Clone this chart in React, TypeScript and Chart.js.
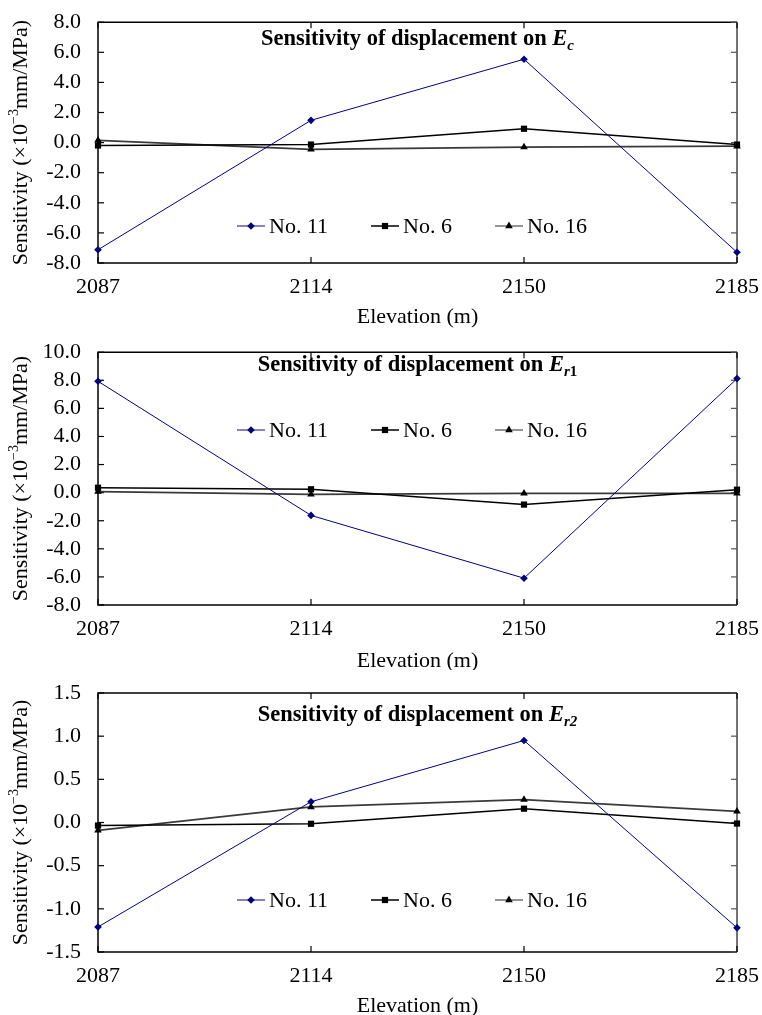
import React, { useEffect, useRef } from 'react';
import { Chart, registerables } from 'chart.js';

Chart.register(...registerables);

// ---------- data ----------
const categories = ['2087', '2114', '2150', '2185'];
const seriesLabels = ['No. 11', 'No. 6', 'No. 16'];

const ecNo11 = [-7.12, 1.48, 5.54, -7.29];
const ecNo6 = [-0.19, -0.13, 0.92, -0.13];
const ecNo16 = [0.15, -0.45, -0.3, -0.24];
const ecTicks = [-8, -6, -4, -2, 0, 2, 4, 6, 8];

const er1No11 = [7.93, -1.62, -6.09, 8.12];
const er1No6 = [0.35, 0.24, -0.85, 0.21];
const er1No16 = [0.07, -0.12, -0.05, -0.05];
const er1Ticks = [-8, -6, -4, -2, 0, 2, 4, 6, 8, 10];

const er2No11 = [-1.21, 0.24, 0.95, -1.22];
const er2No6 = [-0.035, -0.015, 0.16, -0.012];
const er2No16 = [-0.09, 0.18, 0.265, 0.13];
const er2Ticks = [-1.5, -1.0, -0.5, 0, 0.5, 1.0, 1.5];

const titleMain = 'Sensitivity of displacement on ';
const titleSymbol = 'E';
const titleSubs = [['c'], ['r', '1'], ['r', '2']];
const xTitle = 'Elevation (m)';
const yTitleParts = ['Sensitivity (×10', '−3', 'mm/MPa)'];

const panelSeries = [
  [ecNo11, ecNo6, ecNo16],
  [er1No11, er1No6, er1No16],
  [er2No11, er2No6, er2No16],
];
const panelTicks = [ecTicks, er1Ticks, er2Ticks];

// ---------- style / layout ----------
const FONT = '"Liberation Serif", "Times New Roman", serif';
const STYLES = [
  { line: '#000080', point: '#000080', width: 1, pointStyle: 'rectRot', r: 3.8 },
  { line: '#000000', point: '#000000', width: 1.5, pointStyle: 'rect', r: 4.4 },
  { line: '#3a3a3a', point: '#000000', width: 1.8, pointStyle: 'triangle', r: 4.4 },
];
const LEGEND_X = [237, 371, 495];
const LEGEND_LINE = 28;
const LEGEND_TEXT_OFF = 32;

const PANELS = [
  { top: 0, height: 330, plotTop: 15, plotBottom: 263, titleY: 38, legendY: 226, xTitleY: 316 },
  { top: 330, height: 340, plotTop: 21, plotBottom: 275, titleY: 34, legendY: 100, xTitleY: 330 },
  { top: 670, height: 345, plotTop: 23, plotBottom: 282, titleY: 44, legendY: 230, xTitleY: 335 },
];

type Seg = { t: string; font: string; dy?: number };

function drawRich(ctx: CanvasRenderingContext2D, segs: Seg[], cx: number, baseline: number) {
  let total = 0;
  const widths = segs.map((s) => {
    ctx.font = s.font;
    const w = ctx.measureText(s.t).width;
    total += w;
    return w;
  });
  let x = cx - total / 2;
  ctx.textAlign = 'left';
  ctx.textBaseline = 'alphabetic';
  segs.forEach((s, i) => {
    ctx.font = s.font;
    ctx.fillText(s.t, x, baseline + (s.dy || 0));
    x += widths[i];
  });
}

function drawMarker(ctx: CanvasRenderingContext2D, style: string, x: number, y: number, r: number, color: string) {
  ctx.fillStyle = color;
  ctx.beginPath();
  if (style === 'rectRot') {
    ctx.moveTo(x, y - r);
    ctx.lineTo(x + r, y);
    ctx.lineTo(x, y + r);
    ctx.lineTo(x - r, y);
  } else if (style === 'rect') {
    const s = r / Math.SQRT2;
    ctx.rect(x - s, y - s, 2 * s, 2 * s);
  } else {
    let rad = 0;
    ctx.moveTo(x + Math.sin(rad) * r, y - Math.cos(rad) * r);
    rad += (2 * Math.PI) / 3;
    ctx.lineTo(x + Math.sin(rad) * r, y - Math.cos(rad) * r);
    rad += (2 * Math.PI) / 3;
    ctx.lineTo(x + Math.sin(rad) * r, y - Math.cos(rad) * r);
  }
  ctx.closePath();
  ctx.fill();
}

function makeDecor(idx: number) {
  const p = PANELS[idx];
  return {
    id: 'decor' + idx,
    beforeDatasetsDraw(chart: any) {
      const { ctx, chartArea: a, scales } = chart;
      const xs = scales.x;
      const ys = scales.y;
      ctx.save();
      ctx.lineWidth = 1.5;
      ctx.strokeStyle = '#000';
      ctx.beginPath();
      ctx.moveTo(a.right, a.top);
      ctx.lineTo(a.left, a.top);
      ctx.lineTo(a.left, a.bottom);
      ctx.lineTo(a.right, a.bottom);
      ctx.stroke();
      ctx.strokeStyle = '#444';
      ctx.beginPath();
      ctx.moveTo(a.right, a.top);
      ctx.lineTo(a.right, a.bottom);
      ctx.stroke();
      const tl = 6;
      ctx.lineWidth = 1.2;
      ys.ticks.forEach((t: any) => {
        const py = ys.getPixelForValue(t.value);
        ctx.strokeStyle = '#000';
        ctx.beginPath();
        ctx.moveTo(a.left, py);
        ctx.lineTo(a.left + tl, py);
        ctx.stroke();
        ctx.strokeStyle = '#555';
        ctx.beginPath();
        ctx.moveTo(a.right - tl, py);
        ctx.lineTo(a.right, py);
        ctx.stroke();
      });
      ctx.strokeStyle = '#000';
      categories.forEach((_c, i) => {
        const px = xs.getPixelForValue(i);
        ctx.beginPath();
        ctx.moveTo(px, a.bottom);
        ctx.lineTo(px, a.bottom - tl);
        ctx.moveTo(px, a.top);
        ctx.lineTo(px, a.top + tl);
        ctx.stroke();
      });
      ctx.restore();
    },
    afterDraw(chart: any) {
      const { ctx, chartArea: a } = chart;
      const cx = (a.left + a.right) / 2;
      const cy = (a.top + a.bottom) / 2;
      ctx.save();
      ctx.fillStyle = '#000';
      // in-plot title
      const subs = titleSubs[idx];
      const segs: Seg[] = [
        { t: titleMain, font: `bold 22.5px ${FONT}` },
        { t: titleSymbol, font: `italic bold 22.5px ${FONT}` },
      ];
      subs.forEach((s) => {
        const isDigit = /\d/.test(s);
        segs.push({ t: s, font: `${isDigit && idx === 1 ? '' : 'italic '}bold 15px ${FONT}`, dy: 5 });
      });
      drawRich(ctx, segs, cx, p.titleY + 7);

      // legend
      seriesLabels.forEach((lab, i) => {
        const st = STYLES[i];
        const x0 = LEGEND_X[i];
        const ly = p.legendY;
        ctx.strokeStyle = i === 0 ? '#5a5ab0' : i === 2 ? '#707070' : st.line;
        ctx.lineWidth = 1.5;
        ctx.beginPath();
        ctx.moveTo(x0, ly);
        ctx.lineTo(x0 + LEGEND_LINE, ly);
        ctx.stroke();
        drawMarker(ctx, st.pointStyle, x0 + LEGEND_LINE / 2, ly, st.r, st.point);
        ctx.fillStyle = '#000';
        ctx.font = `22px ${FONT}`;
        ctx.textAlign = 'left';
        ctx.textBaseline = 'alphabetic';
        ctx.fillText(lab, x0 + LEGEND_TEXT_OFF, ly + 7);
      });

      // x title
      ctx.fillStyle = '#000';
      drawRich(ctx, [{ t: xTitle, font: `22px ${FONT}` }], cx, p.xTitleY + 7);

      // y title (rotated)
      ctx.save();
      ctx.translate(20, cy);
      ctx.rotate(-Math.PI / 2);
      drawRich(
        ctx,
        [
          { t: yTitleParts[0], font: `22px ${FONT}` },
          { t: yTitleParts[1], font: `14px ${FONT}`, dy: -9 },
          { t: yTitleParts[2], font: `22px ${FONT}` },
        ],
        0,
        7
      );
      ctx.restore();
      ctx.restore();
    },
  };
}

function Panel({ idx }: { idx: number }) {
  const ref = useRef<HTMLCanvasElement>(null);
  const p = PANELS[idx];
  useEffect(() => {
    const ticks = panelTicks[idx];
    const chart = new Chart(ref.current as HTMLCanvasElement, {
      type: 'line',
      data: {
        labels: categories,
        datasets: panelSeries[idx].map((d, i) => ({
          label: seriesLabels[i],
          data: d,
          borderColor: STYLES[i].line,
          backgroundColor: STYLES[i].point,
          pointBackgroundColor: STYLES[i].point,
          pointBorderColor: STYLES[i].point,
          pointBorderWidth: 0,
          borderWidth: STYLES[i].width,
          pointStyle: STYLES[i].pointStyle as any,
          pointRadius: STYLES[i].r,
          tension: 0,
          clip: false as any,
        })),
      },
      options: {
        responsive: false,
        animation: false,
        devicePixelRatio: 1,
        layout: { padding: { top: p.plotTop, bottom: 0, left: 0, right: 25 } },
        plugins: {
          legend: { display: false },
          tooltip: { enabled: false },
          title: { display: false },
        },
        scales: {
          x: {
            type: 'category',
            offset: false,
            grid: { display: false },
            border: { display: false },
            ticks: {
              font: { family: FONT, size: 22 },
              color: '#000',
              padding: 3,
              maxRotation: 0,
              autoSkip: false,
            },
            afterFit: (s: any) => {
              s.height = p.height - p.plotBottom;
            },
          },
          y: {
            min: ticks[0],
            max: ticks[ticks.length - 1],
            grid: { display: false },
            border: { display: false },
            ticks: {
              font: { family: FONT, size: 22 },
              color: '#000',
              padding: 9,
              autoSkip: false,
              callback: (v: any) => Number(v).toFixed(1),
            },
            afterBuildTicks: (s: any) => {
              s.ticks = ticks.map((v) => ({ value: v }));
            },
            afterFit: (s: any) => {
              s.width = 98;
            },
          },
        },
      },
      plugins: [makeDecor(idx)],
    });
    return () => chart.destroy();
  }, [idx]);
  return (
    <div style={{ position: 'absolute', left: 0, top: p.top, width: 762, height: p.height }}>
      <canvas ref={ref} width={762} height={p.height} style={{ display: 'block' }} />
    </div>
  );
}

export default function App() {
  return (
    <div style={{ position: 'absolute', left: 0, top: 0, width: 762, height: 1015, background: '#fff' }}>
      {PANELS.map((_p, i) => (
        <Panel key={i} idx={i} />
      ))}
    </div>
  );
}
